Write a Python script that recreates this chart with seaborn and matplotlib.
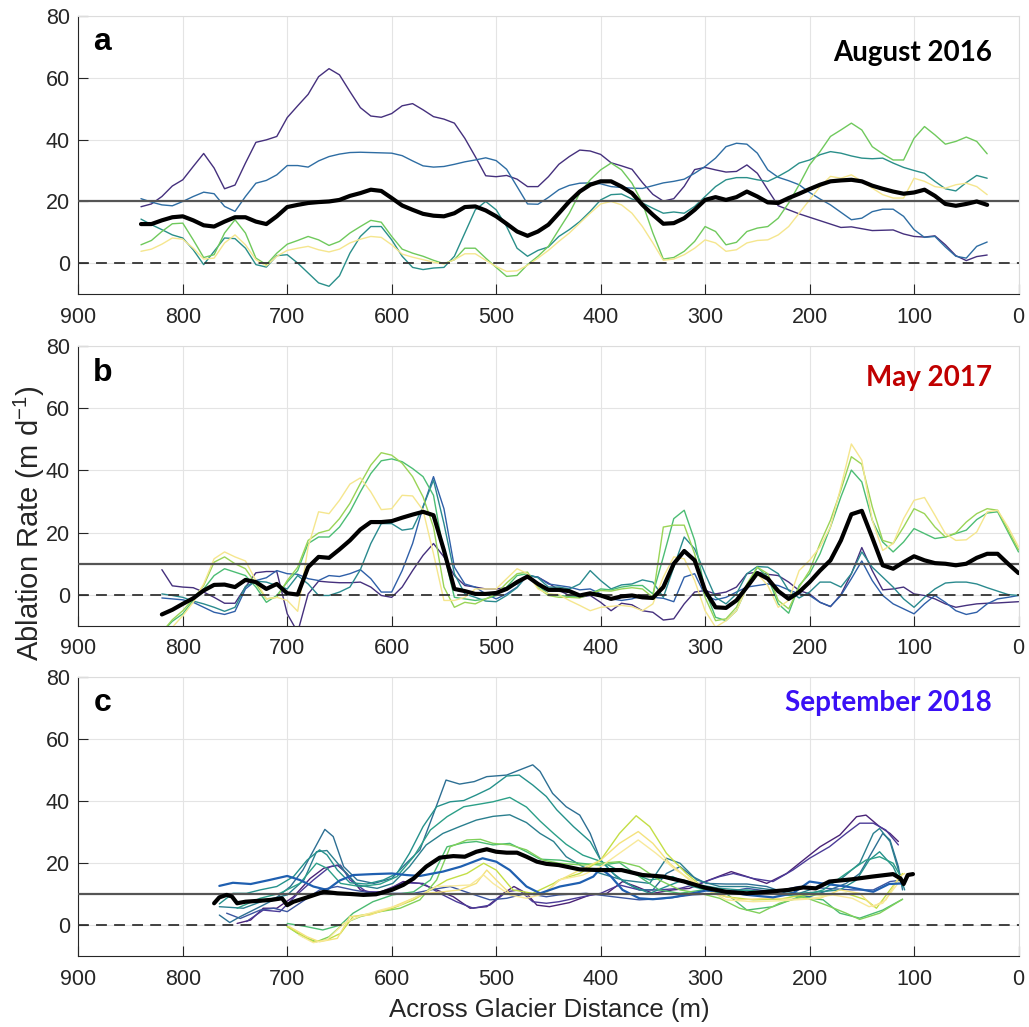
import matplotlib
matplotlib.use("Agg")
import matplotlib.pyplot as plt
import pandas as pd
import seaborn as sns

sns.set_style("white")
plt.rcParams['font.family'] = ['Liberation Sans', 'DejaVu Sans']

# ---------------- Panel a : August 2016 (distance 840 -> 30 m, 10 m step)
dist_a = list(range(840, 29, -10))
a_purple = [18.3, 19.2, 21.6, 25.0, 27.0, 31.3, 35.5, 30.8, 24.1, 25.3,
            32.4, 39.1, 39.9, 41.0, 47.1, 50.9, 54.6, 60.3, 62.9, 60.9,
            55.5, 50.3, 47.6, 47.2, 48.4, 50.9, 51.6, 49.6, 47.4, 46.6,
            45.3, 40.4, 34.5, 28.3, 28.0, 28.4, 27.2, 24.8, 24.8, 28.0,
            32.0, 34.5, 36.6, 36.3, 35.2, 32.5, 31.5, 30.4, 26.1, 22.3,
            20.1, 20.9, 24.9, 30.3, 31.0, 30.2, 29.5, 29.7, 31.8, 29.1,
            23.8, 18.6, 17.3, 16.0, 14.9, 13.8, 12.7, 11.6, 11.8, 11.2,
            10.6, 10.7, 10.8, 9.5, 8.7, 8.5, 8.9, 6.0, 2.5, 0.9,
            2.2, 2.7]
a_blue = [20.9, 19.8, 18.9, 18.6, 20.0, 21.6, 23.0, 22.5, 18.4, 16.8,
          21.6, 25.9, 26.8, 28.6, 31.6, 31.6, 31.1, 33.1, 34.5, 35.3,
          35.8, 35.9, 35.8, 35.7, 35.6, 34.8, 33.1, 31.5, 31.1, 31.3,
          32.0, 32.8, 33.4, 34.1, 33.2, 30.4, 24.8, 19.2, 19.1, 21.3,
          23.8, 25.2, 25.9, 26.0, 25.7, 24.8, 24.5, 24.3, 24.2, 25.1,
          26.0, 26.5, 27.2, 29.1, 31.3, 34.0, 37.7, 38.8, 38.5, 35.6,
          30.2, 27.8, 26.7, 25.4, 22.9, 20.8, 18.9, 16.5, 14.1, 14.6,
          16.7, 17.5, 17.5, 15.2, 10.9, 8.4, 8.7, 5.3, 2.3, 1.7,
          5.5, 6.9]
a_teal = [14.3, 12.5, 10.9, 9.2, 8.2, 4.4, -0.4, 3.9, 8.2, 8.0,
          4.9, -0.4, -1.2, 2.5, 2.8, 0.1, -3.1, -6.3, -7.4, -4.0,
          3.3, 8.7, 11.9, 11.9, 7.6, 2.3, -1.3, -2.0, -1.5, -1.3,
          2.3, 9.8, 17.3, 20.0, 17.3, 11.9, 4.9, 2.3, 4.2, 5.3,
          8.7, 10.9, 13.5, 16.8, 20.5, 22.2, 22.4, 20.8, 19.5, 17.8,
          16.2, 16.6, 16.2, 18.4, 21.6, 24.8, 27.0, 27.7, 27.7, 27.0,
          26.5, 28.1, 30.0, 32.4, 33.4, 35.1, 36.1, 35.6, 34.7, 34.0,
          33.8, 34.0, 32.4, 31.0, 30.0, 29.1, 26.5, 24.1, 23.4, 26.1,
          28.4, 27.5]
a_green = [6.0, 7.4, 10.3, 12.8, 13.0, 7.6, 1.9, 2.8, 9.8, 14.1,
           9.8, 1.7, -0.4, 3.3, 6.2, 7.4, 8.7, 7.6, 5.8, 7.1,
           9.8, 11.9, 13.9, 13.3, 8.7, 4.6, 3.3, 2.3, 1.0, -0.1,
           1.2, 4.9, 4.9, 1.7, -1.3, -4.2, -3.9, -0.4, 2.3, 5.5,
           10.9, 16.2, 22.7, 27.0, 30.2, 32.4, 30.2, 25.9, 19.5, 9.8,
           1.4, 1.9, 3.9, 7.1, 11.9, 10.3, 6.0, 6.8, 10.3, 11.4,
           11.9, 14.6, 19.5, 25.4, 31.8, 36.1, 41.0, 43.1, 45.3, 43.1,
           37.7, 35.4, 33.4, 33.4, 40.4, 44.2, 41.5, 38.5, 39.4, 40.8,
           39.4, 35.4]
a_yellow = [3.9, 4.6, 6.2, 8.2, 7.8, 4.9, 1.4, 1.7, 6.6, 9.2,
            6.0, 1.2, -0.8, 2.3, 4.2, 4.9, 5.5, 4.4, 3.7, 4.6,
            6.6, 7.8, 8.7, 8.4, 6.0, 3.0, 2.0, 1.2, 0.4, -0.2,
            1.2, 3.1, 3.1, 1.0, -1.0, -2.6, -2.4, -0.6, 1.7, 4.2,
            7.1, 9.8, 13.0, 16.2, 19.2, 20.0, 18.9, 16.2, 11.9, 6.6,
            1.0, 1.4, 2.8, 4.9, 7.6, 6.6, 3.9, 4.4, 6.6, 7.4,
            7.6, 9.2, 11.9, 16.2, 20.5, 24.8, 28.1, 27.5, 28.6, 26.5,
            24.3, 22.2, 21.1, 21.1, 27.5, 26.5, 24.8, 24.3, 25.4, 25.9,
            24.8, 22.2]
a_mean = [12.7, 12.7, 13.9, 14.9, 15.2, 13.9, 12.3, 11.9, 13.5, 14.9,
          14.9, 13.5, 12.7, 15.2, 18.2, 18.9, 19.5, 19.8, 20.0, 20.5,
          21.8, 22.7, 23.8, 23.4, 21.1, 18.7, 17.3, 16.0, 15.4, 15.2,
          16.2, 18.2, 18.4, 17.1, 15.2, 12.8, 10.3, 8.9, 10.3, 12.5,
          16.2, 20.0, 23.2, 25.4, 26.5, 26.5, 24.8, 22.7, 18.9, 15.7,
          12.8, 13.0, 14.6, 17.3, 20.5, 21.4, 20.5, 21.4, 23.2, 21.6,
          19.7, 19.5, 21.1, 22.5, 24.0, 25.4, 26.5, 26.8, 27.0, 26.5,
          25.1, 24.1, 23.2, 22.5, 22.9, 23.8, 21.8, 19.2, 18.6, 19.2,
          20.0, 18.9]

# ---------------- Panel b : May 2017 (distance 820 -> 0 m, 10 m step)
dist_b = list(range(820, -1, -10))
b_mean = [-6.3, -4.8, -2.9, -1.1, 1.4, 3.2, 3.3, 2.5, 4.8, 4.1,
          1.9, 3.5, 0.5, 0.1, 8.9, 12.2, 11.9, 14.6, 17.5, 21.0,
          23.4, 23.4, 23.7, 24.8, 25.8, 26.7, 25.6, 14.3, 1.9, 1.2,
          0.3, 0.3, 0.6, 1.9, 4.1, 5.9, 3.5, 1.6, 1.6, 1.2,
          -0.2, 0.5, -0.2, -1.3, -0.5, -0.2, -0.8, -1.0, 2.5, 10.0,
          14.1, 11.1, 1.4, -4.0, -4.2, -1.8, 2.5, 7.0, 5.2, 1.2,
          -1.3, 0.9, 4.1, 7.8, 11.1, 17.5, 25.9, 27.0, 18.4, 9.5,
          8.4, 10.5, 12.4, 11.1, 10.2, 10.0, 9.5, 10.0, 11.9, 13.2,
          13.2, 10.0, 7.0]
b_purple = [8.1, 2.9, 2.5, 2.3, 0.9, -0.8, -2.7, -2.7, 2.5, 7.1,
            7.5, 7.5, -6.1, -12.0, 0.3, 4.4, 4.1, 3.9, 3.9, 4.1,
            2.5, -0.2, -0.8, 2.5, 7.8, 12.7, 16.5, 12.2, 6.2, 3.0,
            2.5, 1.9, 1.9, 2.3, 3.5, 6.2, 5.7, 3.8, 1.5, -0.2,
            -0.8, -0.2, -2.4, -5.1, -2.7, -3.2, -5.1, -5.6, -8.1, -7.7,
            -2.9, 0.9, 1.4, 0.3, 0.9, 2.5, 6.8, 7.3, 6.6, 6.2,
            4.1, 1.4, 0.3, -2.4, -3.8, 0.1, 6.8, 15.2, 7.8, 1.6,
            1.9, 2.5, 0.3, -0.2, -1.3, -2.9, -4.0, -3.4, -2.9, -2.7,
            -2.6, -2.4, -2.2]
b_blue = [-1.0, -1.3, -1.6, -2.4, -4.0, -5.6, -6.3, -5.3, 1.9, 4.6,
          5.5, 7.8, 6.8, 6.6, 5.2, 4.6, 6.2, 5.9, 6.8, 8.1,
          5.2, 0.9, 0.9, 7.8, 16.5, 28.3, 38.0, 27.7, 8.9, 3.5,
          2.5, 0.3, -1.3, 0.3, 2.5, 6.2, 5.7, 3.5, 3.0, 2.5,
          1.6, 1.9, 0.3, -1.3, -1.8, -1.3, -0.2, -0.8, -1.1, -2.2,
          5.7, 6.8, -0.2, -1.6, -0.8, 0.9, 2.5, 3.0, 3.5, 3.0,
          1.6, 0.3, -0.2, -2.4, -3.7, -0.2, 5.2, 10.9, 4.6, -0.2,
          -2.9, -4.5, -6.1, -2.9, -0.2, -2.4, -5.1, -6.3, -5.6, -2.9,
          -1.3, -0.8, -0.2]
b_teal = [0.3, -0.2, -0.8, -2.0, -2.9, -4.0, -5.3, -4.0, 2.7, 4.4,
          4.1, 3.0, 1.9, 6.2, 3.5, -0.2, -0.2, 0.9, 2.5, 8.1,
          16.5, 22.9, 22.9, 20.8, 21.3, 28.3, 36.9, 22.9, 6.8, 0.3,
          -0.8, -2.0, -2.2, -0.2, 2.3, 6.5, 5.5, 2.5, 2.5, 1.9,
          3.5, 7.8, 4.6, 1.9, 3.2, 3.5, 4.8, 4.1, -0.8, 8.9,
          18.6, 14.8, 6.8, -0.8, -2.9, 0.3, 6.8, 9.1, 8.9, 6.8,
          1.4, -1.0, 0.9, 4.1, 4.1, 2.5, 6.8, 13.8, 8.9, 5.7,
          2.5, -1.3, -4.0, -0.8, 1.9, 3.8, 4.1, 4.1, 3.5, 2.3,
          1.2, 0.1, -0.2]
b_green = [-12.0, -8.5, -6.1, -1.8, 1.9, 6.2, 8.4, 7.3, 6.2, 2.5,
           -2.4, -0.2, 4.1, 7.8, 16.5, 18.6, 18.6, 21.8, 26.7, 33.1,
           39.0, 43.1, 43.7, 42.8, 40.6, 38.0, 32.0, 13.2, -0.8, -1.3,
           -1.8, -1.3, -0.2, 2.5, 6.2, 6.8, 3.0, 0.3, -0.2, -0.5,
           -0.8, 0.3, 1.9, 1.6, 2.5, 3.0, 3.0, 0.3, 12.2, 24.5,
           27.2, 17.5, 1.4, -7.2, -8.3, -5.1, 2.5, 8.9, 5.7, -2.9,
           -5.9, 3.0, 6.8, 13.2, 21.8, 31.5, 40.1, 36.3, 24.0, 17.0,
           13.8, 17.0, 21.3, 19.7, 18.1, 18.6, 19.7, 20.8, 24.2, 26.3,
           26.7, 20.2, 13.8]
b_lime = [-12.0, -8.0, -5.1, -1.3, 3.0, 10.5, 12.2, 10.0, 8.4, 3.5,
          -1.3, -0.8, 4.6, 8.9, 17.5, 19.9, 20.8, 24.5, 29.4, 35.8,
          41.7, 45.7, 44.9, 42.3, 38.0, 31.5, 21.8, 2.5, -4.0, -2.4,
          -2.9, -1.3, 0.3, 3.8, 6.8, 7.3, 2.3, -0.2, -0.8, -0.8,
          -1.0, 0.3, 1.4, 1.2, 1.9, 2.3, 1.9, -0.8, 21.8, 22.4,
          22.4, 13.2, -0.8, -8.3, -7.7, -4.0, 3.5, 8.9, 6.8, -1.8,
          -4.5, 2.5, 7.8, 16.5, 24.0, 33.7, 44.4, 42.0, 28.3, 17.5,
          16.5, 21.8, 27.7, 26.1, 21.8, 18.6, 19.9, 23.4, 26.1, 27.7,
          27.2, 20.8, 14.5]
b_yellow = [-14.0, -10.4, -6.7, -2.4, 3.5, 11.6, 13.8, 12.2, 10.9, 4.6,
            -1.3, -0.8, -1.8, -5.3, 15.4, 26.7, 26.1, 30.4, 35.6, 37.6,
            33.1, 27.4, 27.7, 32.0, 31.8, 27.2, 13.2, -1.8, -1.8, -0.8,
            1.9, 1.9, 1.9, 5.2, 8.4, 6.8, 1.9, 0.3, 0.1, -1.8,
            -3.4, -5.1, -4.0, -3.7, -3.4, -3.8, -5.1, -2.9, 5.7, 12.2,
            11.6, 4.6, -5.1, -10.4, -8.3, -5.1, 2.5, 6.8, 3.0, -4.0,
            -1.8, 7.8, 11.1, 15.4, 21.8, 34.7, 48.5, 43.3, 24.0, 14.3,
            16.5, 24.5, 30.4, 31.3, 25.6, 19.7, 17.5, 17.7, 20.2, 26.7,
            27.2, 21.8, 15.4]

# ---------------- Panel c : September 2018 (distance, rate) pairs
c_mean = [(770, 7.0), (765, 8.9), (758, 9.7), (753, 9.2), (748, 7.0), (740, 7.5), (727, 7.8),
          (715, 8.1), (705, 8.6), (700, 6.4), (694, 7.5), (681, 8.9), (665, 10.7), (652, 10.2),
          (640, 10.0), (627, 9.7), (615, 9.9), (600, 11.3), (589, 12.9), (579, 15.0), (567, 18.8),
          (554, 21.7), (541, 22.2), (530, 22.0), (519, 23.6), (509, 24.4), (500, 23.6), (490, 23.3),
          (480, 23.3), (471, 22.0), (461, 20.4), (452, 19.7), (440, 19.3), (420, 17.9), (400, 17.7),
          (380, 17.7), (360, 16.1), (340, 15.6), (320, 14.0), (300, 12.0), (280, 10.7), (260, 10.2),
          (240, 10.7), (220, 11.3), (206, 12.1), (194, 11.8), (181, 14.0), (160, 14.7), (140, 15.6),
          (120, 16.4), (113, 15.0), (110, 13.2), (106, 16.1), (101, 16.4)]
c_purple1 = [(748, 0.5), (735, 1.6), (723, 5.4), (710, 5.4), (694, 9.1), (678, 15.0), (665, 18.3),
             (652, 19.3), (643, 16.6), (630, 11.3), (614, 10.2), (598, 12.4), (589, 14.0), (573, 13.4),
             (557, 11.3), (541, 9.1), (525, 5.4), (509, 5.9), (493, 10.2), (483, 12.4), (471, 10.2),
             (461, 6.4), (449, 5.9), (430, 7.2), (410, 9.7), (394, 10.2), (379, 14.0), (366, 12.4),
             (350, 10.2), (331, 11.3), (315, 11.8), (296, 14.5), (275, 17.2), (260, 15.6), (241, 13.4),
             (222, 16.6), (206, 20.9), (190, 25.2), (171, 29.0), (155, 34.9), (146, 35.4), (133, 31.7),
             (123, 29.5), (115, 26.9)]
c_purple2 = [(739, 1.1), (723, 4.8), (707, 4.3), (691, 9.7), (675, 14.5), (659, 18.8), (649, 19.3),
             (640, 14.5), (624, 10.7), (608, 10.7), (589, 13.6), (570, 13.4), (554, 10.2), (538, 7.5),
             (522, 5.4), (506, 6.4), (490, 10.7), (478, 11.3), (465, 7.5), (452, 7.0), (440, 7.5),
             (420, 8.9), (400, 10.2), (382, 12.9), (363, 11.3), (344, 11.3), (324, 11.8), (305, 13.4),
             (286, 15.6), (273, 16.6), (254, 15.0), (235, 14.0), (216, 17.7), (200, 21.5), (181, 25.2),
             (165, 29.5), (152, 32.8), (139, 32.8), (127, 30.6), (115, 25.8)]
c_blue2 = [(758, 3.8), (745, 2.1), (726, 4.8), (713, 5.4), (700, 4.3), (688, 7.0), (669, 11.3),
           (652, 12.4), (637, 11.3), (618, 10.2), (599, 10.2), (579, 10.2), (563, 11.3), (544, 12.4),
           (525, 10.2), (506, 8.1), (490, 8.6), (471, 10.2), (452, 9.1), (440, 9.7), (414, 10.2),
           (388, 9.1), (363, 8.1), (337, 8.6), (312, 9.7), (286, 10.2), (260, 11.8), (235, 10.7),
           (210, 12.4), (184, 11.8), (159, 11.3), (139, 11.3), (123, 14.0), (111, 14.5)]
c_blue = [(765, 12.6), (752, 13.6), (735, 13.2), (717, 14.5), (700, 15.8), (688, 14.5), (675, 12.4),
          (662, 11.3), (650, 14.3), (637, 16.1), (618, 16.4), (600, 16.6), (586, 16.1), (573, 15.8),
          (551, 17.2), (534, 18.8), (513, 21.5), (500, 20.4), (487, 17.7), (471, 12.4), (458, 10.2),
          (439, 12.4), (420, 13.6), (407, 15.6), (400, 18.3), (390, 15.6), (379, 11.3), (363, 8.6),
          (350, 8.3), (331, 8.9), (312, 10.2), (299, 11.1), (280, 10.7), (260, 9.7), (235, 8.9),
          (216, 10.2), (200, 14.0), (184, 13.2), (165, 12.4), (139, 10.7), (124, 13.2), (111, 13.4)]
c_teal1 = [(765, 3.2), (755, 0.8), (745, 2.7), (726, 5.9), (713, 8.1), (697, 12.4), (685, 17.7),
           (672, 25.8), (664, 30.8), (656, 28.5), (646, 18.8), (633, 14.5), (617, 13.4), (600, 15.0),
           (586, 19.9), (573, 24.2), (561, 34.9), (548, 46.7), (535, 45.4), (521, 46.2), (509, 47.8),
           (490, 48.3), (478, 49.9), (465, 51.6), (458, 49.5), (446, 42.4), (433, 38.1), (420, 35.4),
           (410, 29.5), (400, 20.9), (388, 16.6), (375, 13.4), (363, 11.3), (350, 11.3), (337, 16.6),
           (324, 18.8), (312, 15.6), (299, 13.4), (280, 13.2), (260, 13.2), (241, 12.4), (222, 10.2),
           (200, 9.1), (181, 11.3), (165, 13.4), (152, 16.6), (139, 24.2), (130, 29.5), (123, 27.4),
           (115, 18.8), (111, 11.3)]
c_teal4 = [(765, 5.9), (742, 5.4), (720, 8.1), (700, 9.7), (684, 14.5), (672, 23.6), (662, 24.0),
           (649, 18.8), (633, 12.9), (614, 11.8), (599, 13.4), (583, 18.8), (567, 25.8), (551, 29.5),
           (535, 31.7), (519, 33.8), (503, 35.0), (487, 35.5), (471, 33.0), (458, 29.5), (445, 26.9),
           (433, 22.0), (417, 18.8), (400, 16.6), (379, 14.5), (353, 13.4), (337, 21.5), (324, 19.9),
           (308, 14.5), (286, 12.4), (260, 12.4), (235, 11.3), (210, 10.2), (190, 12.4), (171, 14.5),
           (152, 19.9), (139, 29.5), (133, 31.1), (123, 26.9), (114, 16.6), (109, 11.3)]
c_teal2 = [(765, 6.8), (752, 10.2), (739, 10.2), (726, 11.3), (710, 12.4), (694, 15.6), (681, 20.9),
           (669, 24.2), (662, 22.6), (652, 17.7), (640, 13.6), (624, 13.2), (608, 14.5), (595, 16.6),
           (583, 23.1), (570, 31.7), (557, 38.1), (544, 39.7), (531, 40.1), (519, 41.9), (506, 44.0),
           (490, 48.0), (478, 48.3), (465, 45.1), (452, 41.4), (442, 37.1), (426, 31.7), (410, 26.9),
           (400, 20.9), (385, 15.6), (369, 12.4), (353, 10.2), (337, 12.4), (321, 14.5), (305, 12.9),
           (286, 11.8), (267, 11.3), (248, 10.7), (229, 9.7), (210, 10.2), (190, 10.7), (171, 11.3),
           (155, 14.5), (143, 20.9), (133, 23.6), (120, 18.8), (111, 12.4)]
c_teal3 = [(748, 5.4), (726, 8.6), (707, 10.2), (688, 13.4), (672, 19.9), (662, 18.3), (649, 13.4),
           (630, 12.4), (611, 13.2), (595, 15.6), (579, 22.0), (563, 30.6), (547, 34.9), (531, 38.1),
           (515, 39.0), (503, 39.7), (487, 41.1), (471, 38.0), (458, 33.5), (445, 29.5), (433, 26.0),
           (417, 22.5), (400, 20.5), (385, 18.0), (369, 16.6), (353, 14.5), (331, 15.6), (312, 12.4),
           (286, 10.2), (260, 11.3), (235, 10.2), (210, 9.1), (187, 11.3), (165, 16.6), (146, 20.9),
           (133, 22.0), (120, 19.9), (111, 14.5)]
c_green1 = [(700, 0.5), (682, -0.5), (666, -1.6), (649, 0.0), (637, 3.8), (618, 7.5), (599, 9.7),
            (579, 10.7), (563, 14.5), (547, 25.2), (531, 26.5), (519, 26.9), (503, 25.8), (487, 26.3),
            (471, 23.6), (458, 21.2), (439, 20.9), (420, 19.9), (400, 19.3), (382, 20.1), (363, 15.6),
            (344, 11.3), (324, 10.2), (302, 11.3), (280, 10.2), (260, 4.8), (235, 5.9), (210, 9.1),
            (187, 8.1), (171, 3.8), (152, 2.2), (130, 4.8), (111, 8.3)]
c_green2 = [(700, -0.5), (685, -3.8), (672, -5.4), (660, -3.8), (646, 0.5), (630, 2.7), (611, 4.3),
            (592, 5.4), (573, 8.1), (557, 14.5), (544, 25.2), (528, 27.4), (515, 27.6), (503, 26.3),
            (487, 25.8), (471, 24.2), (455, 20.9), (440, 19.9), (417, 19.3), (400, 19.9), (382, 20.4),
            (363, 18.8), (344, 14.5), (324, 11.3), (305, 10.2), (286, 8.6), (267, 5.4), (248, 3.8),
            (229, 7.0), (206, 9.1), (184, 6.4), (165, 3.8), (152, 1.8), (133, 3.8), (111, 8.3)]
c_lime = [(700, -0.5), (689, -2.7), (675, -5.4), (662, -4.8), (649, -2.7), (637, 2.7), (618, 3.8),
          (599, 5.4), (579, 8.1), (563, 11.3), (547, 14.5), (528, 16.6), (512, 19.9), (500, 17.7),
          (484, 11.3), (465, 10.2), (445, 13.4), (440, 14.5), (420, 16.6), (400, 20.9), (382, 29.5),
          (366, 35.2), (353, 31.7), (337, 23.1), (318, 16.6), (299, 11.3), (280, 9.1), (254, 8.1),
          (229, 8.3), (206, 9.7), (184, 9.7), (165, 10.2), (146, 8.1), (136, 5.4), (123, 11.3),
          (111, 16.6)]
c_yellow1 = [(698, -0.5), (681, -3.8), (669, -5.4), (652, -4.3), (640, 2.7), (621, 3.2), (602, 5.4),
             (583, 8.1), (567, 10.2), (551, 10.7), (535, 11.3), (519, 13.4), (509, 17.7), (500, 14.5),
             (487, 10.2), (471, 9.7), (455, 10.2), (439, 14.5), (420, 17.7), (400, 20.9), (382, 26.3),
             (364, 30.1), (350, 26.3), (334, 19.9), (315, 14.5), (292, 10.2), (267, 8.1), (241, 8.6),
             (216, 8.3), (190, 8.6), (171, 11.3), (152, 10.2), (139, 5.9), (127, 8.1), (114, 15.6),
             (109, 16.6)]
c_yellow2 = [(689, -3.2), (675, -5.7), (662, -4.8), (646, 0.5), (630, 2.9), (611, 4.8), (592, 6.4),
             (573, 9.7), (557, 12.4), (541, 12.6), (525, 12.9), (512, 16.1), (503, 13.4), (487, 9.7),
             (471, 8.6), (452, 10.2), (440, 14.5), (417, 16.1), (400, 18.8), (382, 23.1), (364, 27.4),
             (347, 23.1), (328, 17.7), (305, 12.9), (280, 8.1), (254, 7.5), (229, 7.8), (203, 8.3),
             (178, 9.7), (159, 8.6), (143, 5.9), (130, 7.0), (114, 14.0)]

titles = ["August 2016", "May 2017", "September 2018"]
title_colors = ["#000000", "#c00000", "#3a10f5"]
title_y = [0.865, 0.885, 0.905]
letters = ["a", "b", "c"]
ref_levels = [20, 10, 10]
x_ticks = [900, 800, 700, 600, 500, 400, 300, 200, 100, 0]
y_ticks = [0, 20, 40, 60, 80]

# ---------------- drawing
fig = plt.figure(figsize=(10.29, 10.27), dpi=100)
rects = [[0.0761, 0.7134, 0.9137, 0.2713],
         [0.0761, 0.3905, 0.9137, 0.2726],
         [0.0761, 0.0691, 0.9137, 0.2720]]
axes = [fig.add_axes(r) for r in rects]


def draw(ax, d, v, color, lw=1.0, z=3):
    df = pd.DataFrame({"dist": list(d), "rate": list(v)})
    sns.lineplot(data=df, x="dist", y="rate", color=color, linewidth=lw,
                 estimator=None, sort=False, ax=ax, zorder=z)


def draw_pairs(ax, pairs, color, lw=1.0, z=3):
    d, v = zip(*pairs)
    draw(ax, d, v, color, lw, z)


# panel a
ax = axes[0]
for vals, col in [(a_purple, "#45307d"), (a_blue, "#2e6da3"), (a_teal, "#2a8f8a"),
                  (a_green, "#6fc95c"), (a_yellow, "#f5e68e")]:
    draw(ax, dist_a, vals, col)
draw(ax, dist_a, a_mean, "black", lw=3.0, z=5)

# panel b
ax = axes[1]
for vals, col in [(b_purple, "#45307d"), (b_blue, "#2f5fa8"), (b_teal, "#2a8a8e"),
                  (b_green, "#4cbd74"), (b_lime, "#9ad456"), (b_yellow, "#f5e68e")]:
    draw(ax, dist_b, vals, col)
draw(ax, dist_b, b_mean, "black", lw=3.0, z=5)

# panel c
ax = axes[2]
for pairs, col, lw in [(c_purple1, "#4a2377", 1.0), (c_purple2, "#4b3b98", 1.0),
                       (c_blue2, "#3b55a0", 1.0), (c_teal1, "#2d6f93", 1.0),
                       (c_teal4, "#2a7f8e", 1.0), (c_teal2, "#25918b", 1.0),
                       (c_teal3, "#2b9f87", 1.0), (c_green1, "#4bbb72", 1.0),
                       (c_green2, "#80d05a", 1.0), (c_lime, "#c3de45", 1.0),
                       (c_yellow1, "#f4e27c", 1.0), (c_yellow2, "#f8e99a", 1.0),
                       (c_blue, "#1f5fb0", 1.6)]:
    draw_pairs(ax, pairs, col, lw)
draw_pairs(ax, c_mean, "black", lw=3.0, z=5)

for i, ax in enumerate(axes):
    ax.axhline(ref_levels[i], color="#555555", lw=1.6, zorder=4)
    ax.axhline(0, color="#333333", lw=1.3, ls=(0, (6, 4)), zorder=4)
    ax.set_xlim(900, 0)
    ax.set_ylim(-10, 80)
    ax.set_xticks(x_ticks)
    ax.set_yticks(y_ticks)
    ax.grid(True, color="#e4e4e4", linewidth=0.8)
    ax.set_axisbelow(True)
    ax.tick_params(direction="in", length=7, width=0.8, color="#262626",
                   labelsize=15.5, labelcolor="#262626",
                   bottom=True, left=True, top=False, right=False)
    ax.tick_params(axis="x", pad=9)
    ax.tick_params(axis="y", pad=6)
    ax.set_xlabel("")
    ax.set_ylabel("")
    for side in ["left", "bottom"]:
        ax.spines[side].set_color("#262626")
        ax.spines[side].set_linewidth(0.8)
    for side in ["top", "right"]:
        ax.spines[side].set_color("#dcdcdc")
        ax.spines[side].set_linewidth(0.8)
    ax.text(0.016, 0.905, letters[i], transform=ax.transAxes, fontsize=23,
            fontweight="bold", ha="left", va="center", color="black")
    ax.text(0.972, title_y[i], titles[i], transform=ax.transAxes, fontsize=20,
            fontweight="bold", ha="right", va="center", color=title_colors[i],
            family=["Lato", "DejaVu Sans"])

fig.text(0.5336, 0.0166, "Across Glacier Distance (m)", fontsize=18.5,
         color="#262626", ha="center", va="center")
fig.text(0.029, 0.491, "Ablation Rate (m d$^{\\mathregular{-1}}$)", rotation=90,
         fontsize=21, color="#262626", ha="center", va="center")

fig.savefig("out.png", dpi=100)
